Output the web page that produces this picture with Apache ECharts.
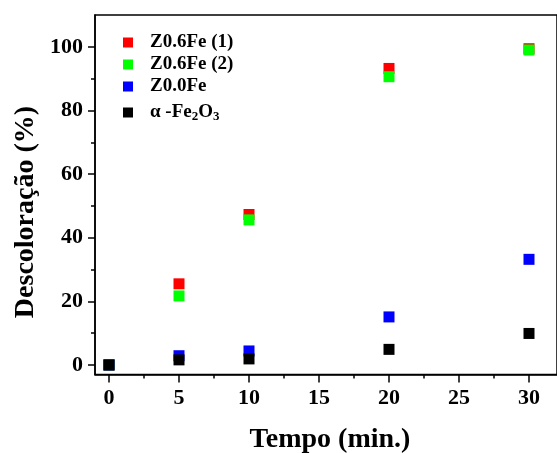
<!DOCTYPE html>
<html>
<head>
<meta charset="utf-8">
<script src="https://cdn.jsdelivr.net/npm/echarts@6/dist/echarts.min.js"></script>
<style>
  html, body { margin: 0; padding: 0; background: #fff; }
  #chart { width: 557px; height: 453px; }
</style>
</head>
<body>
<div id="chart"></div>
<script>
// Sampling times (min)
const times = [0, 5, 10, 20, 30];
// Decolourisation (%) per sample
const z06fe1 = [0, 25.5, 47.3, 93.2, 99.4];
const z06fe2 = [0, 21.7, 45.6, 90.6, 99.0];
const z00fe  = [0, 2.9, 4.4, 15.1, 33.2];
const fe2o3  = [0, 1.6, 1.9, 4.9, 9.9];

const seriesNames = ['Z0.6Fe (1)', 'Z0.6Fe (2)', 'Z0.0Fe', 'α -Fe2O3'];
const seriesColors = ['#ff0000', '#00ff00', '#0000ff', '#000000'];
const seriesData = [z06fe1, z06fe2, z00fe, fe2o3];

// Tick positions
const xMajor = [0, 5, 10, 15, 20, 25, 30];
const xMinor = [2.5, 7.5, 12.5, 17.5, 22.5, 27.5];
const yMajor = [0, 20, 40, 60, 80, 100];
const yMinor = [10, 30, 50, 70, 90];

const FONT = '"Liberation Serif", "Times New Roman", serif';
const chart = echarts.init(document.getElementById('chart'), null, { renderer: 'canvas' });

const axisLineOn = { show: true, onZero: false, lineStyle: { color: '#000', width: 1.5 } };
const axisLineOff = { show: false, onZero: false };

chart.setOption({
  animation: false,
  backgroundColor: '#fff',
  grid: {
    left: 95, top: 15, width: 474, height: 359.5,
    show: true, borderColor: '#000', borderWidth: 1.5, backgroundColor: 'transparent'
  },
  legend: {
    orient: 'vertical',
    left: 118, top: 28,
    itemWidth: 10, itemHeight: 10, itemGap: 3,
    icon: 'rect',
    data: seriesNames,
    formatter: function (name) {
      if (name === 'α -Fe2O3') return '{a|α -Fe}{s|2}{a|O}{s|3}';
      return '{a|' + name + '}';
    },
    textStyle: {
      padding: [0, 0, 0, 12],
      rich: {
        a: { fontFamily: FONT, fontWeight: 'bold', fontSize: 19, color: '#000', lineHeight: 21 },
        s: { fontFamily: FONT, fontWeight: 'bold', fontSize: 13, color: '#000', lineHeight: 21, verticalAlign: 'bottom', padding: [11, 0, 0, 0] }
      }
    }
  },
  xAxis: [
    {
      type: 'value', min: -1, max: 32, position: 'bottom', offset: 0,
      splitLine: { show: false },
      axisLine: axisLineOn,
      axisTick: { show: true, length: 8, customValues: xMajor, lineStyle: { color: '#000', width: 1.5 } },
      axisLabel: { customValues: xMajor, margin: 13, fontFamily: FONT, fontWeight: 'bold', fontSize: 22, color: '#000' }
    },
    {
      type: 'value', min: -1, max: 32, position: 'bottom', offset: 0,
      splitLine: { show: false },
      axisLine: axisLineOff,
      axisTick: { show: true, length: 4, customValues: xMinor, lineStyle: { color: '#000', width: 1.5 } },
      axisLabel: { show: false }
    }
  ],
  yAxis: [
    {
      type: 'value', min: -3, max: 110, position: 'left', offset: 0,
      splitLine: { show: false },
      axisLine: axisLineOn,
      axisTick: { show: true, length: 7, customValues: yMajor, lineStyle: { color: '#000', width: 1.5 } },
      axisLabel: { customValues: yMajor, margin: 12, fontFamily: FONT, fontWeight: 'bold', fontSize: 22, color: '#000', padding: [0, 0, 8, 0] }
    },
    {
      type: 'value', min: -3, max: 110, position: 'left', offset: 0,
      splitLine: { show: false },
      axisLine: axisLineOff,
      axisTick: { show: true, length: 4, customValues: yMinor, lineStyle: { color: '#000', width: 1.5 } },
      axisLabel: { show: false }
    }
  ],
  graphic: [
    {
      type: 'text', x: 330, y: 440,
      style: { text: 'Tempo (min.)', font: 'bold 28px ' + FONT, fill: '#000', align: 'center', verticalAlign: 'middle' }
    },
    {
      type: 'text',
      x: 26, y: 212, rotation: Math.PI / 2,
      style: { text: 'Descoloração (%)', font: 'bold 28px ' + FONT, fill: '#000', align: 'center', verticalAlign: 'middle' }
    }
  ],
  series: seriesNames.map(function (name, i) {
    return {
      name: name,
      type: 'scatter',
      xAxisIndex: 0, yAxisIndex: 0,
      symbol: 'rect',
      symbolSize: 11,
      itemStyle: { color: seriesColors[i], opacity: 1 },
      z: 2 + i,
      data: times.map(function (t, j) { return [t, seriesData[i][j]]; })
    };
  })
});
</script>
</body>
</html>
